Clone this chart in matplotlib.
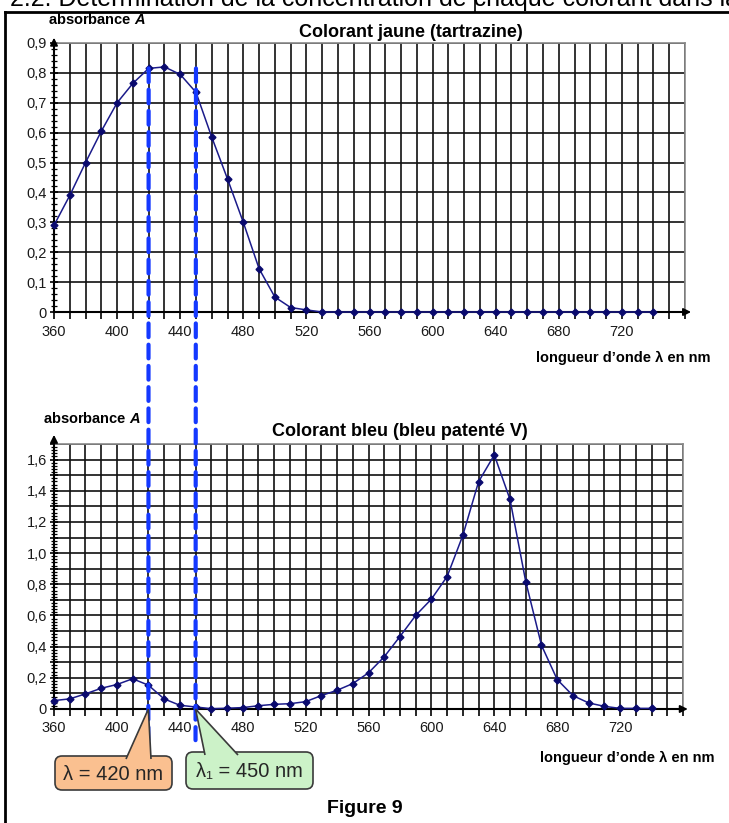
import numpy as np
import matplotlib.pyplot as plt
from matplotlib.patches import FancyBboxPatch, Polygon, ConnectionPatch
from matplotlib.lines import Line2D
from matplotlib.transforms import IdentityTransform
from matplotlib.ticker import MultipleLocator, FuncFormatter

plt.rcParams['font.family'] = ['Liberation Sans', 'DejaVu Sans']
plt.rcParams['mathtext.fontset'] = 'custom'
plt.rcParams['mathtext.rm'] = 'Liberation Sans:bold'
plt.rcParams['mathtext.it'] = 'Liberation Sans:bold:italic'

W, H = 729, 823

# longueurs d'onde (nm) et absorbances
wavelength = list(range(360, 750, 10))
abs_jaune = [0.29, 0.39, 0.50, 0.605, 0.70, 0.765, 0.815, 0.82, 0.795, 0.735,
             0.585, 0.445, 0.30, 0.145, 0.05, 0.015, 0.007,
             0, 0, 0, 0, 0, 0, 0, 0, 0, 0, 0, 0, 0, 0, 0, 0, 0, 0, 0, 0, 0, 0]
abs_bleu = [0.054, 0.065, 0.097, 0.133, 0.157, 0.194, 0.153, 0.065, 0.024, 0.013,
            0.002, 0.005, 0.009, 0.021, 0.030, 0.034, 0.047, 0.086, 0.12, 0.163,
            0.232, 0.335, 0.465, 0.60, 0.705, 0.85, 1.114, 1.458, 1.63, 1.344,
            0.817, 0.409, 0.189, 0.086, 0.039, 0.017, 0.004, 0.004, 0.004]

lam_sel = 420     # lambda choisie
lam1_sel = 450    # lambda_1
titles = ['Colorant jaune (tartrazine)', 'Colorant bleu (bleu patenté V)']
xlabel = 'longueur d\u2019onde \u03bb en nm'
ylabel = r'absorbance $A$'

line_col = '#1b1b8a'
dash_col = '#1438ff'


def fx(p):
    return p / W


def fy(p):
    return 1 - p / H


def disp(x, y):
    # pixels (origin top-left) -> display coords
    return (x, H - y)


fig = plt.figure(figsize=(W / 100, H / 100), dpi=100)

ax1 = fig.add_axes([fx(54), fy(312), fx(685) - fx(54), fy(43) - fy(312)])
ax2 = fig.add_axes([fx(54), fy(709), fx(683) - fx(54), fy(444) - fy(709)])


def fmt_y(step):
    def f(v, p):
        if v < 1e-9:
            return '0'
        k = v / step
        if abs(k - round(k)) > 1e-6:
            return ''
        return f'{v:.1f}'.replace('.', ',')
    return f


def style(ax, ymax, ylab_step, arrow_y, arrow_x):
    ax.set_xlim(360, 760)
    ax.set_ylim(0, ymax)
    ax.xaxis.set_major_locator(MultipleLocator(10))
    ax.xaxis.set_major_formatter(FuncFormatter(
        lambda v, p: f'{v:.0f}' if round(v) % 40 == 0 and v < 750 else ''))
    ax.yaxis.set_major_locator(MultipleLocator(0.1))
    ax.yaxis.set_minor_locator(MultipleLocator(0.02))
    ax.yaxis.set_major_formatter(FuncFormatter(fmt_y(ylab_step)))
    ax.set_axisbelow(True)
    ax.grid(which='major', color='#111111', lw=1.2)
    ax.tick_params(axis='x', which='major', direction='out', length=5, width=1.2,
                   labelsize=10.5, pad=4, labelcolor='#1a1a1a')
    ax.tick_params(axis='y', which='major', direction='inout', length=6, width=1.2,
                   labelsize=10.5, pad=2, labelcolor='#1a1a1a')
    ax.tick_params(axis='y', which='minor', direction='inout', length=4, width=0.9)
    for s in ['top', 'right']:
        ax.spines[s].set_color('#8a8a8a')
        ax.spines[s].set_linewidth(1.2)
    for s in ['left', 'bottom']:
        ax.spines[s].set_color('black')
        ax.spines[s].set_linewidth(1.5)
    ax.annotate('', xy=(arrow_x, 0), xytext=(0.98, 0), xycoords='axes fraction',
                arrowprops=dict(arrowstyle='-|>', color='black', lw=1.3, mutation_scale=11),
                annotation_clip=False)
    ax.annotate('', xy=(0, arrow_y), xytext=(0, 0.97), xycoords='axes fraction',
                arrowprops=dict(arrowstyle='-|>', color='black', lw=1.3, mutation_scale=11),
                annotation_clip=False)


style(ax1, 0.9, 0.1, 1.03, 1.014)
style(ax2, 1.7, 0.2, 1.045, 1.012)

ax1.plot(wavelength, abs_jaune, color=line_col, lw=1.1, marker='D', ms=3.5,
         mfc='#0a0a6e', mec='#0a0a6e', clip_on=False, zorder=3)
ax2.plot(wavelength, abs_bleu, color=line_col, lw=1.1, marker='D', ms=3.5,
         mfc='#0a0a6e', mec='#0a0a6e', clip_on=False, zorder=3)

# titres et étiquettes d'axes
fig.text(fx(411), fy(37), titles[0], ha='center', va='baseline',
         fontsize=13, fontweight='bold')
fig.text(fx(400), fy(436), titles[1], ha='center', va='baseline',
         fontsize=13, fontweight='bold')
fig.text(fx(48), fy(24), ylabel, ha='left', va='baseline', fontsize=10.5,
         fontweight='bold')
fig.text(fx(43), fy(423), ylabel, ha='left', va='baseline', fontsize=10.5,
         fontweight='bold')
fig.text(fx(710), fy(362), xlabel, ha='right', va='baseline',
         fontsize=10.5, fontweight='bold')
fig.text(fx(714), fy(762), xlabel, ha='right', va='baseline',
         fontsize=10.5, fontweight='bold')
fig.text(fx(365), fy(813), 'Figure 9', ha='center', va='baseline',
         fontsize=14, fontweight='bold')

# en-tête coupé et cadre
fig.text(fx(10), fy(6), '2.2. Détermination de la concentration de chaque colorant dans la boisson',
         ha='left', va='baseline', fontsize=18)
fig.add_artist(Line2D([fx(5), fx(5)], [fy(12), fy(H)], color='black', lw=2))
fig.add_artist(Line2D([fx(5), fx(W)], [fy(12), fy(12)], color='black', lw=2))
fig.add_artist(Line2D([fx(475), fx(475)], [fy(0), fy(12)], color='black', lw=1.2))

# pointillés verticaux reliant les deux graphes
for lam in [lam_sel, lam1_sel]:
    cp = ConnectionPatch(xyA=(lam, 0.815), coordsA=ax1.transData,
                         xyB=(lam, -0.2), coordsB=ax2.transData,
                         color=dash_col, lw=3, linestyle=(0, (3.3, 1.8)), zorder=5)
    fig.add_artist(cp)


# bulles
def callout(box, base, lam, text, fc):
    x0, y0, x1, y1 = box
    bx, by = disp(x0, y1)
    patch = FancyBboxPatch((bx, by), x1 - x0, y1 - y0,
                           boxstyle='round,pad=0,rounding_size=7',
                           transform=IdentityTransform(), fc=fc, ec='#3a3a3a',
                           lw=1.2, zorder=10)
    fig.add_artist(patch)
    apex = ax2.transData.transform((lam, 0))
    pts = [disp(base[0], y0 + 3), tuple(apex), disp(base[1], y0 + 3)]
    wedge = Polygon(pts, closed=False, transform=IdentityTransform(), fc=fc,
                    ec='#3a3a3a', lw=1.2, zorder=11)
    fig.add_artist(wedge)
    fig.text(fx((x0 + x1) / 2), fy((y0 + y1) / 2 + 1), text, ha='center', va='center',
             fontsize=14.5, color='#262626', zorder=12)


callout((55, 756, 172, 790), (126, 151), lam_sel, '\u03bb = 420 nm', '#fac090')
callout((186, 752, 313, 789), (205, 238), lam1_sel, '\u03bb\u2081 = 450 nm', '#ccf2c8')

fig.savefig('out.png', dpi=100)
